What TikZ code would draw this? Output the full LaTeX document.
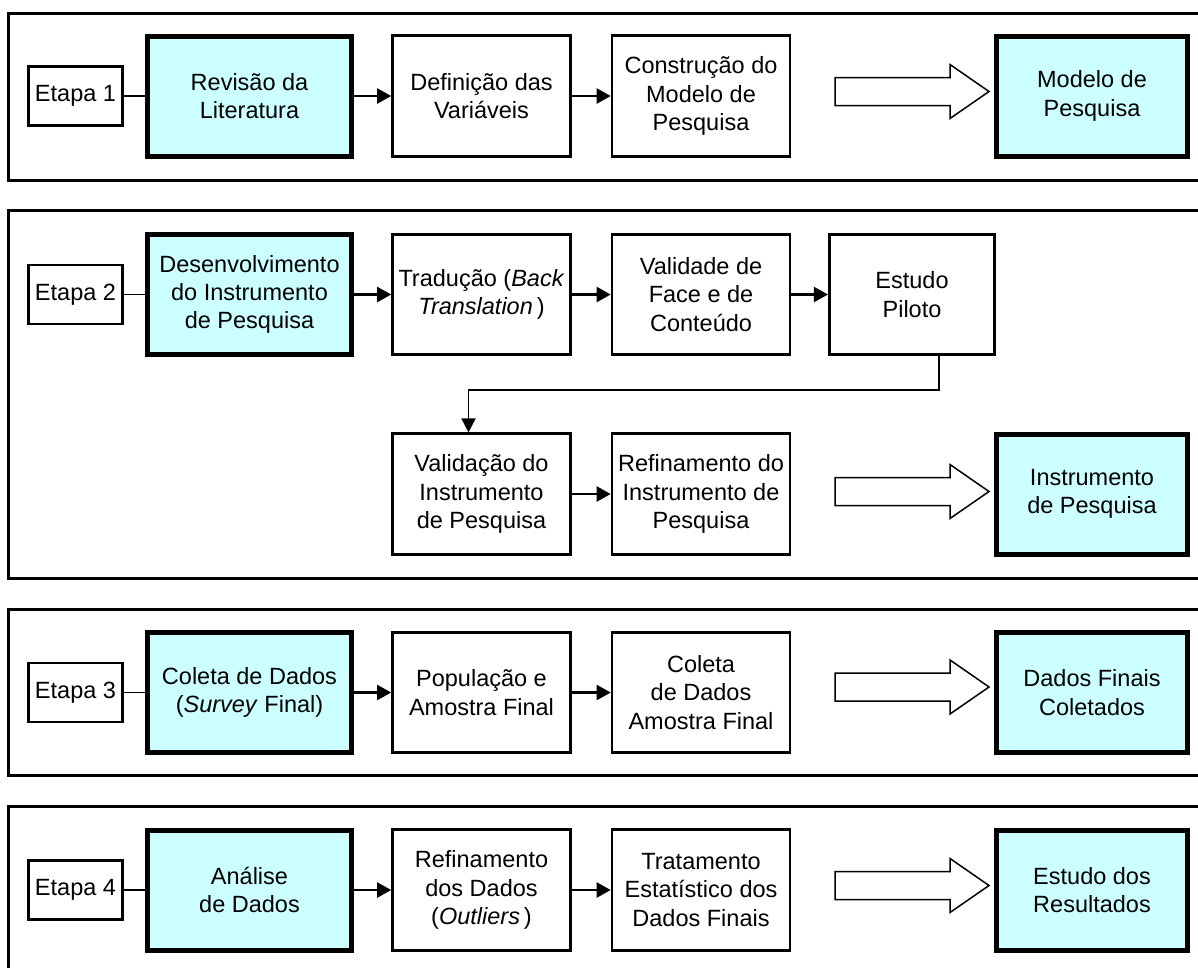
\documentclass[tikz,border=0pt]{standalone}
\usepackage{fontspec}
\setmainfont{Liberation Sans}
\usetikzlibrary{arrows.meta}
\definecolor{keycyan}{HTML}{CCFFFF}
\begin{document}
\begin{tikzpicture}[x=1pt,y=-1pt,
  every node/.style={font=\fontsize{23.5}{28.3}\selectfont, align=center, inner sep=0pt},
  stepbox/.style={draw, line width=2.6pt, minimum width=178pt, minimum height=120.5pt},
  keybox/.style={draw, fill=keycyan, line width=5pt, minimum width=204pt, minimum height=120pt},
  endbox/.style={keybox, minimum width=191pt},
  etapa/.style={draw, line width=2.6pt, minimum width=94.5pt, minimum height=59pt},
  panel/.style={line width=3pt},
  link/.style={line width=1.8pt},
  flow/.style={line width=2.2pt, -{Triangle[length=14pt,width=15pt]}},
  loopflow/.style={line width=1.5pt, -{Triangle[length=14pt,width=14pt]}},
  bigarrow/.style={draw, line width=1.5pt, fill=white, line join=miter}
]
\clip (0,0) rectangle (1198,967);
\fill[white] (0,0) rectangle (1198,967);

% panels
\draw[panel] (8.7,13.5) rectangle (1220,180);
\draw[panel] (8.7,210.5) rectangle (1220,578);
\draw[panel] (8.7,609.5) rectangle (1220,775.5);
\draw[panel] (8.7,806.5) rectangle (1220,1000);

% row 1
\node[etapa]   (e1) at (75.5,96)  {Etapa 1};
\node[keybox]  (k1) at (249.5,96) {Revisão da\\Literatura};
\node[stepbox] (c1) at (481.5,96) {Definição das\\Variáveis};
\node[stepbox] (d1) at (701,96)   {Construção do\\Modelo de\\Pesquisa};
\node[endbox]  (f1) at (1092,96)  {Modelo de\\Pesquisa};

% row 2
\node[etapa]   (e2) at (75.5,294.5)  {Etapa 2};
\node[keybox]  (k2) at (249.5,294.5) {Desenvolvimento\\do Instrumento\\de Pesquisa};
\node[stepbox] (c2) at (481.5,294.5) {Tradução (\textit{Back}\\\textit{Translation}\,)};
\node[stepbox] (d2) at (701,294.5)   {Validade de\\Face e de\\Conteúdo};
\node[stepbox, minimum width=165.5pt] (estudo) at (912,294.5) {Estudo\\Piloto};

% row 2b
\node[stepbox] (valid) at (481.5,494) {Validação do\\Instrumento\\de Pesquisa};
\node[stepbox] (refin) at (701,494)   {Refinamento do\\Instrumento de\\Pesquisa};
\node[endbox]  (f2) at (1092,494)     {Instrumento\\de Pesquisa};

% row 3
\node[etapa]   (e3) at (75.5,692.5)  {Etapa 3};
\node[keybox]  (k3) at (249.5,692.5) {Coleta de Dados\\(\textit{Survey} Final)};
\node[stepbox] (c3) at (481.5,692.5) {População e\\Amostra Final};
\node[stepbox] (d3) at (701,692.5)   {Coleta\\de Dados\\Amostra Final};
\node[endbox]  (f3) at (1092,692.5)  {Dados Finais\\Coletados};

% row 4
\node[etapa]   (e4) at (75.5,890)  {Etapa 4};
\node[keybox]  (k4) at (249.5,890) {Análise\\de Dados};
\node[stepbox] (c4) at (481.5,890) {Refinamento\\dos Dados\\(\textit{Outliers}\,)};
\node[stepbox] (d4) at (701,890)   {Tratamento\\Estatístico dos\\Dados Finais};
\node[endbox]  (f4) at (1092,890)  {Estudo dos\\Resultados};

% connectors
\draw[link] (e1) -- (k1);
\draw[link] (e2) -- (k2);
\draw[link] (e3) -- (k3);
\draw[link] (e4) -- (k4);

\draw[flow] (k1) -- (c1);
\draw[flow] (c1) -- (d1);
\draw[flow] (k2) -- (c2);
\draw[flow] (c2) -- (d2);
\draw[flow] (d2) -- (estudo);
\draw[loopflow] ([xshift=27pt]estudo.south) -- ++(0,34) -| ([xshift=-13pt]valid.north);
\draw[flow] (valid) -- (refin);
\draw[flow] (k3) -- (c3);
\draw[flow] (c3) -- (d3);
\draw[flow] (k4) -- (c4);
\draw[flow] (c4) -- (d4);

% big hollow arrows
\foreach \yy in {91.5,491.5,687,885.5} {
  \draw[bigarrow] (835,{\yy-14}) -- (950,{\yy-14}) -- (950,{\yy-27}) -- (989,\yy)
    -- (950,{\yy+27}) -- (950,{\yy+14}) -- (835,{\yy+14}) -- cycle;
}
\end{tikzpicture}
\end{document}
